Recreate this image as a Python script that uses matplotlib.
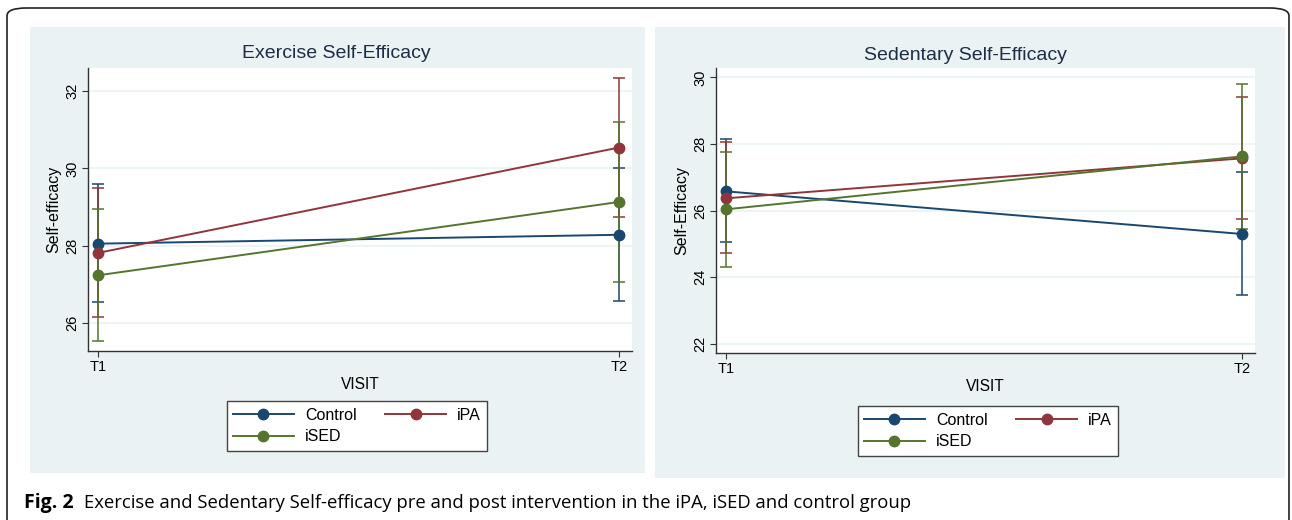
import numpy as np
import matplotlib
matplotlib.use('Agg')
import matplotlib.pyplot as plt
from matplotlib.patches import FancyBboxPatch, Rectangle

plt.rcParams['font.family'] = ['Liberation Sans', 'DejaVu Sans']

# data (means with 95% CI)
visits = ['T1', 'T2']
groups = ['Control', 'iPA', 'iSED']
colors = ['#1a476f', '#90353b', '#55752f']

ex_mean = {'Control': [28.05, 28.28], 'iPA': [27.81, 30.54], 'iSED': [27.23, 29.13]}
ex_lo = {'Control': [26.53, 26.57], 'iPA': [26.16, 28.75], 'iSED': [25.53, 27.07]}
ex_hi = {'Control': [29.59, 30.00], 'iPA': [29.48, 32.35], 'iSED': [28.94, 31.20]}

sed_mean = {'Control': [26.58, 25.30], 'iPA': [26.37, 27.57], 'iSED': [26.04, 27.63]}
sed_lo = {'Control': [25.05, 23.46], 'iPA': [24.72, 25.76], 'iSED': [24.31, 25.45]}
sed_hi = {'Control': [28.15, 27.16], 'iPA': [28.05, 29.40], 'iSED': [27.77, 29.80]}

W, H = 1292, 520
fig = plt.figure(figsize=(W / 100, H / 100), dpi=100)
fig.patch.set_facecolor('white')

def px_rect(x0, y0, x1, y1):
    return (x0 / W, 1 - y1 / H, (x1 - x0) / W, (y1 - y0) / H)

# outer rounded frame
l, b, w, h = px_rect(7, 8, 1289, 560)
fig.patches.append(FancyBboxPatch((l, b), w, h, boxstyle='round,pad=0,rounding_size=0.015',
                                  transform=fig.transFigure, fc='none', ec='#222222',
                                  lw=1.2, zorder=-2))

# panel backgrounds
for r in [(30, 27, 645, 473), (655, 27, 1285, 478)]:
    l, b, w, h = px_rect(*r)
    fig.patches.append(Rectangle((l, b), w, h, transform=fig.transFigure,
                                 fc='#eaf2f3', ec='none', zorder=-1))

def panel(rect, title, title_xy, ylabel, mean, lo, hi, yticks, ylim, leg_center):
    ax = fig.add_axes(px_rect(*rect))
    ax.set_facecolor('white')
    x = np.arange(1, len(visits) + 1)
    handles = {}
    for g, c in zip(groups, colors):
        m = np.array(mean[g])
        err = np.vstack([m - np.array(lo[g]), np.array(hi[g]) - m])
        ax.errorbar(x, m, yerr=err, fmt='none', ecolor=c, elinewidth=1.1,
                    capsize=4, capthick=1.1, zorder=3)
        ln, = ax.plot(x, m, '-o', color=c, lw=1.4, ms=7.5, zorder=4)
        handles[g] = ln
    ax.set_xlim(0.981, 2.025)
    ax.set_ylim(*ylim)
    ax.set_xticks(x)
    ax.set_xticklabels(visits, fontsize=10.5)
    ax.set_yticks(yticks)
    ax.set_yticklabels([str(t) for t in yticks], fontsize=10.5, rotation=90, va='center')
    ax.yaxis.grid(True, color='#eaf2f3', lw=1.2)
    ax.set_axisbelow(True)
    for s in ['top', 'right']:
        ax.spines[s].set_visible(False)
    for s in ['left', 'bottom']:
        ax.spines[s].set_color('#333333')
        ax.spines[s].set_linewidth(1.0)
    ax.tick_params(axis='both', colors='#333333', length=4, pad=2.5, labelcolor='black')
    # title is centred on the whole panel, not on the plot area
    fig.text(title_xy[0] / W, 1 - title_xy[1] / H, title, fontsize=14,
             color='#1e2d46', ha='center', va='center')
    ax.set_xlabel('VISIT', fontsize=11.2, labelpad=2)
    ax.set_ylabel(ylabel, fontsize=11.5, labelpad=3)
    leg = fig.legend([handles['Control'], handles['iSED'], handles['iPA']],
                     ['Control', 'iSED', 'iPA'], ncol=2, loc='center',
                     bbox_to_anchor=leg_center, fontsize=11.5, frameon=True,
                     fancybox=False, edgecolor='#444444', facecolor='white',
                     framealpha=1, handlelength=3.8, columnspacing=1.8,
                     borderpad=0.4, labelspacing=0.4, handletextpad=0.7)
    leg.get_frame().set_linewidth(1.0)
    return ax

panel((88, 68, 632, 351), 'Exercise Self-Efficacy', (336, 54), 'Self-efficacy',
      ex_mean, ex_lo, ex_hi, [26, 28, 30, 32], (25.27, 32.6), (357 / W, 1 - 426 / H))
panel((716, 68, 1255, 353), 'Sedentary Self-Efficacy', (965, 55), 'Self-Efficacy',
      sed_mean, sed_lo, sed_hi, [22, 24, 26, 28, 30], (21.73, 30.28), (988 / W, 1 - 431 / H))

fig.text(24 / W, 1 - 503 / H, 'Fig. 2', fontsize=14, fontweight='bold',
         family=['Open Sans', 'DejaVu Sans'], va='center', ha='left')
fig.text(84 / W, 1 - 503 / H,
         'Exercise and Sedentary Self-efficacy pre and post intervention in the iPA, iSED and control group',
         fontsize=13.3, family=['Open Sans', 'DejaVu Sans'], va='center', ha='left')

fig.savefig('out.png', dpi=100)
